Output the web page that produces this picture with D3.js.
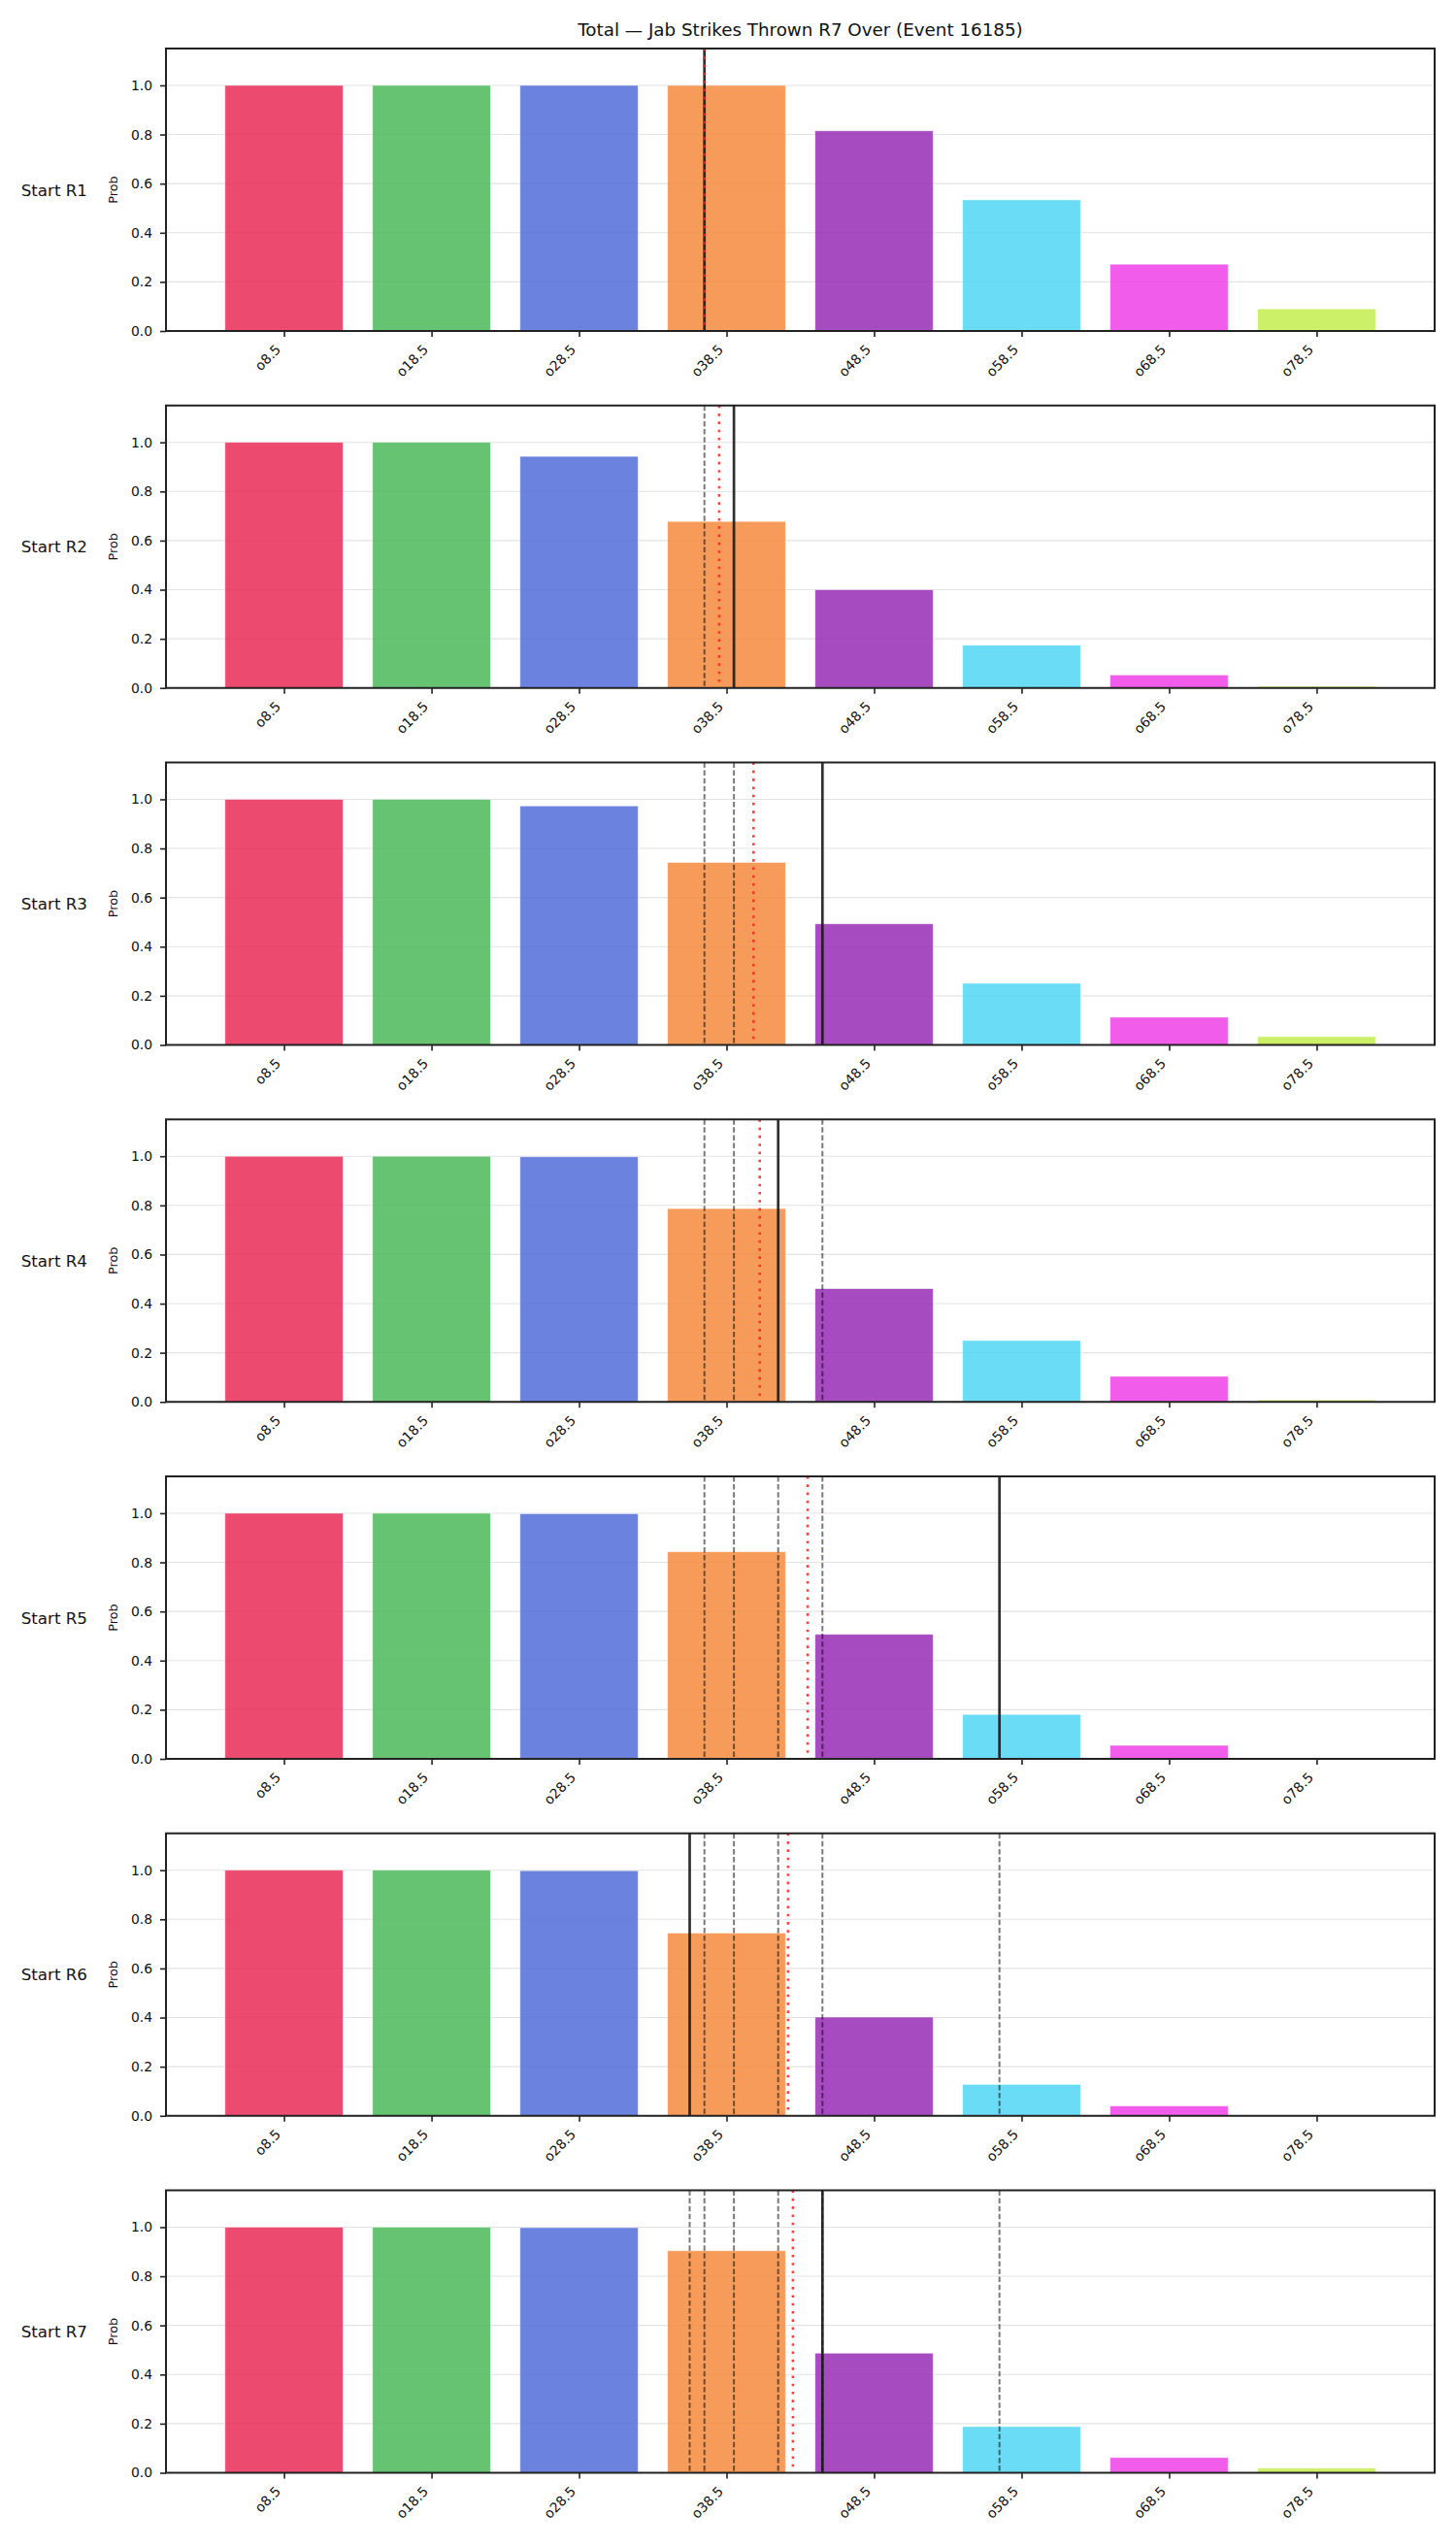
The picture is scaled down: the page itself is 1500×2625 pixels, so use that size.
<!DOCTYPE html>
<html>
<head>
<meta charset="utf-8">
<script src="https://cdn.jsdelivr.net/npm/d3@7"></script>
<style>
  html, body { margin: 0; padding: 0; background: #ffffff; }
  svg { display: block; font-family: "DejaVu Sans", sans-serif; }
</style>
</head>
<body>
<svg id="chart" width="1500" height="2625"></svg>
<script>
// ---------------- data ----------------
const title = "Total \u2014 Jab Strikes Thrown R7 Over (Event 16185)";
const thresholds = [8.5, 18.5, 28.5, 38.5, 48.5, 58.5, 68.5, 78.5];
const categories = ["o8.5", "o18.5", "o28.5", "o38.5", "o48.5", "o58.5", "o68.5", "o78.5"];
const rounds = ["Start R1", "Start R2", "Start R3", "Start R4", "Start R5", "Start R6", "Start R7"];
const yTicks = [0.0, 0.2, 0.4, 0.6, 0.8, 1.0];

const probR1 = [1.000, 1.000, 1.000, 1.000, 0.815, 0.534, 0.272, 0.090];
const probR2 = [1.000, 1.000, 0.943, 0.678, 0.400, 0.174, 0.053, 0.007];
const probR3 = [1.000, 1.000, 0.973, 0.743, 0.493, 0.251, 0.113, 0.034];
const probR4 = [1.000, 1.000, 0.998, 0.787, 0.461, 0.250, 0.104, 0.008];
const probR5 = [1.000, 1.000, 0.998, 0.843, 0.507, 0.181, 0.055, 0.001];
const probR6 = [1.000, 1.000, 0.998, 0.744, 0.402, 0.128, 0.040, 0.000];
const probR7 = [1.000, 1.000, 0.998, 0.904, 0.487, 0.188, 0.062, 0.019];
const probs = [probR1, probR2, probR3, probR4, probR5, probR6, probR7];

// per-round observed totals (solid line = current round, dashed = earlier rounds)
const roundTotals = [37, 39, 45, 42, 57, 36, 45];
// running average (red dotted line)
const runningMean = [37, 38, 40.33, 40.75, 44, 42.67, 43];

const barColors = ["#ea2a57", "#4ab858", "#516dd8", "#f48a3d", "#972bb5", "#50d6f4", "#f03fe6", "#c3ed4d"];

// ---------------- layout ----------------
const svg = d3.select("#chart");
const left = 171, right = 1478;
const firstTop = 50, panelH = 291, step = 367.75;
const fontTick = 13.9;

// value scale: thresholds sit at category centres, 10 units apart, bars 8 units wide
const x = d3.scaleLinear().domain([thresholds[0] - 8, thresholds[7] + 8]).range([left, right]);
const barHalf = 4;

svg.append("text")
  .attr("x", (left + right) / 2).attr("y", 37)
  .attr("text-anchor", "middle")
  .attr("font-size", 18.3).attr("fill", "#111")
  .text(title);

probs.forEach((vals, k) => {
  const top = firstTop + k * step;
  const bottom = top + panelH;
  const y = d3.scaleLinear().domain([0, 1.15]).range([bottom, top]);
  const g = svg.append("g");

  // grid
  g.selectAll("line.grid").data(yTicks).enter().append("line")
    .attr("x1", left).attr("x2", right)
    .attr("y1", d => y(d)).attr("y2", d => y(d))
    .attr("stroke", "#e3e3e3").attr("stroke-width", 1.1);

  // bars
  g.selectAll("rect.bar").data(vals).enter().append("rect")
    .attr("x", (d, i) => x(thresholds[i] - barHalf))
    .attr("width", (d, i) => x(thresholds[i] + barHalf) - x(thresholds[i] - barHalf))
    .attr("y", d => y(d))
    .attr("height", d => y(0) - y(d))
    .attr("fill", (d, i) => barColors[i])
    .attr("fill-opacity", 0.85)
    .attr("stroke", "#ffffff").attr("stroke-width", 0.8).attr("stroke-opacity", 0.6);

  // dashed lines for earlier rounds
  const prev = roundTotals.slice(0, k);
  g.selectAll("line.prev").data(prev).enter().append("line")
    .attr("x1", d => x(d)).attr("x2", d => x(d))
    .attr("y1", top).attr("y2", bottom)
    .attr("stroke", "#000").attr("stroke-opacity", 0.52)
    .attr("stroke-width", 2).attr("stroke-dasharray", "5.5,2.6");

  // solid line for current round
  g.append("line")
    .attr("x1", x(roundTotals[k])).attr("x2", x(roundTotals[k]))
    .attr("y1", top).attr("y2", bottom)
    .attr("stroke", "#1a1a1a").attr("stroke-opacity", 0.9).attr("stroke-width", 2.7);

  // running mean dotted red
  g.append("line")
    .attr("x1", x(runningMean[k])).attr("x2", x(runningMean[k]))
    .attr("y1", top).attr("y2", bottom)
    .attr("stroke", "#ff2020").attr("stroke-opacity", 0.85)
    .attr("stroke-width", 2.6).attr("stroke-dasharray", "2.6,5.7");

  // y axis
  const ya = g.append("g").attr("transform", `translate(${left},0)`)
    .call(d3.axisLeft(y).tickValues(yTicks).tickFormat(d3.format(".1f")).tickSize(6).tickPadding(8));
  ya.select(".domain").remove();
  ya.selectAll(".tick line").attr("stroke", "#222").attr("stroke-width", 1.6);
  ya.selectAll(".tick text").attr("font-size", fontTick).attr("fill", "#111")
    .attr("font-family", "DejaVu Sans, sans-serif");

  // x axis ticks
  const xa = g.append("g").attr("transform", `translate(0,${bottom})`)
    .call(d3.axisBottom(x).tickValues(thresholds).tickFormat("").tickSize(6));
  xa.select(".domain").remove();
  xa.selectAll(".tick line").attr("stroke", "#222").attr("stroke-width", 1.6);

  g.selectAll("text.xl").data(categories).enter().append("text")
    .attr("transform", (d, i) => `translate(${x(thresholds[i]) - 2.5},${bottom + 20}) rotate(-45)`)
    .attr("text-anchor", "end")
    .attr("font-size", fontTick).attr("fill", "#111")
    .text(d => d);

  // spines
  g.append("rect")
    .attr("x", left).attr("y", top)
    .attr("width", right - left).attr("height", panelH)
    .attr("fill", "none").attr("stroke", "#222").attr("stroke-width", 2);

  // labels
  g.append("text")
    .attr("transform", `translate(116.5,${(top + bottom) / 2}) rotate(-90)`)
    .attr("text-anchor", "middle").attr("dominant-baseline", "central")
    .attr("font-size", 12.8).attr("fill", "#111")
    .text("Prob");

  g.append("text")
    .attr("x", 90).attr("y", (top + bottom) / 2)
    .attr("text-anchor", "end").attr("dominant-baseline", "central")
    .attr("font-size", 16.7).attr("fill", "#111")
    .text(rounds[k]);
});
</script>
</body>
</html>
